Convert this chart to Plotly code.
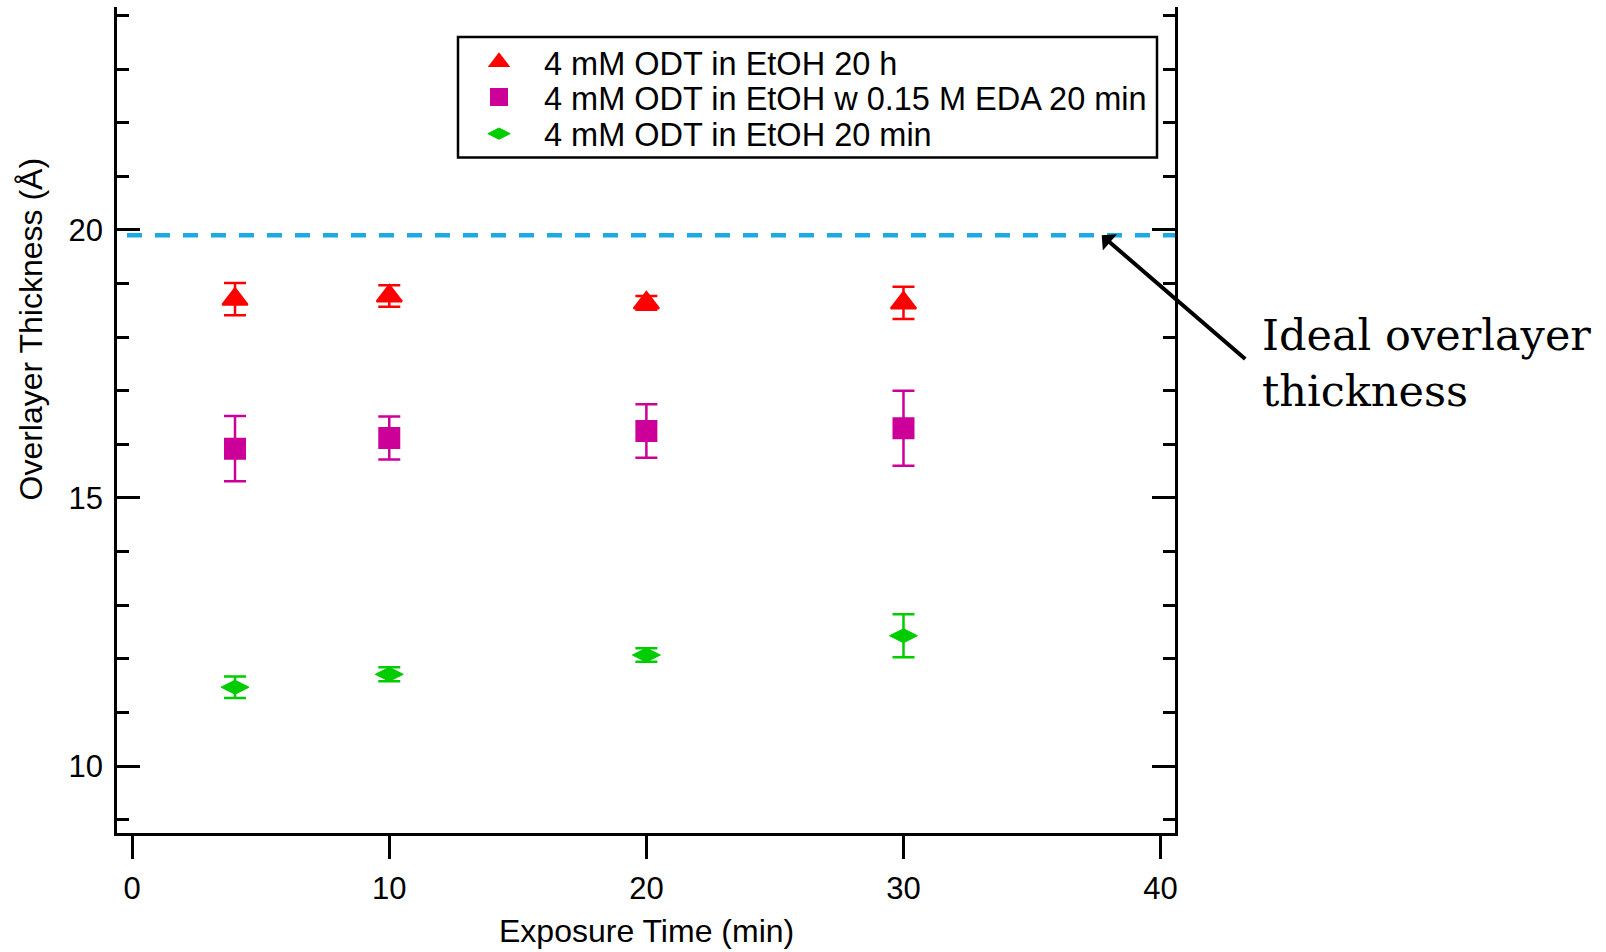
import plotly.graph_objects as go

# ---------------- data ----------------
time_min = [4, 10, 20, 30]

odt_20h = [18.71, 18.77, 18.64, 18.64]
odt_20h_err = [0.30, 0.20, 0.13, 0.30]

odt_eda_20min = [15.92, 16.12, 16.25, 16.30]
odt_eda_20min_err = [0.61, 0.40, 0.50, 0.70]

odt_20min = [11.47, 11.71, 12.07, 12.43]
odt_20min_err = [0.20, 0.13, 0.125, 0.40]

ideal_thickness = 19.9

series_names = [
    "4 mM ODT in EtOH 20 h",
    "4 mM ODT in EtOH w 0.15 M EDA 20 min",
    "4 mM ODT in EtOH 20 min",
]
x_title = "Exposure Time (min)"
y_title = "Overlayer Thickness (Å)"
note_text = "Ideal overlayer<br>thickness"

# ---------------- layout geometry ----------------
W, H = 1606, 952
L, R, T, B = 117, 431, 7, 119
PW, PH = W - L - R, H - T - B


def px2x(px):
    return (px - L) / PW


def py2y(py):
    return (H - B - py) / PH


FONT = "Liberation Sans, Arial, sans-serif"
SERIF = "DejaVu Serif, serif"
RED = "#FF0000"
MAGENTA = "#CC0099"
GREEN = "#00CC00"
BLUE = "#1DAAE2"

fig = go.Figure()

specs = [
    (odt_20h, odt_20h_err, RED, "triangle-up", 22, 2, "legend"),
    (odt_eda_20min, odt_eda_20min_err, MAGENTA, "square", 20, 2, "legend2"),
    (odt_20min, odt_20min_err, GREEN, "diamond-wide", 20, 1, "legend3"),
]
for (vals, errs, col, sym, size, lw, leg), name in zip(specs, series_names):
    fig.add_trace(go.Scatter(
        x=time_min, y=vals, mode="markers", name=name, legend=leg,
        marker=dict(symbol=sym, size=size, color=col, line=dict(width=lw, color=col)),
        error_y=dict(type="data", array=errs, visible=True, color=col, thickness=2.5, width=11),
    ))

legend_common = dict(
    font=dict(family=FONT, size=32.5, color="black"),
    bgcolor="rgba(0,0,0,0)", borderwidth=0, itemwidth=80,
    xanchor="left", yanchor="middle", x=px2x(454),
)

fig.update_layout(
    width=W, height=H,
    margin=dict(l=L, r=R, t=T, b=B, pad=0),
    paper_bgcolor="white", plot_bgcolor="white",
    font=dict(family=FONT, color="black"),
    legend=dict(**legend_common, y=py2y(62.3)),
    legend2=dict(**legend_common, y=py2y(97.3)),
    legend3=dict(**legend_common, y=py2y(134)),
    xaxis=dict(
        range=[-0.59, 40.56], dtick=10, tick0=0,
        showgrid=False, zeroline=False,
        showline=True, linecolor="black", linewidth=2.5, mirror=False,
        ticks="outside", ticklen=23, tickwidth=2.5, tickcolor="black",
        tickfont=dict(family=FONT, size=31, color="black"),
        ticklabelstandoff=3,
    ),
    yaxis=dict(
        range=[8.75, 24.16], dtick=5, tick0=0,
        showgrid=False, zeroline=False,
        showline=True, linecolor="black", linewidth=2.5, mirror="ticks",
        ticks="inside", ticklen=23, tickwidth=2.5, tickcolor="black",
        tickfont=dict(family=FONT, size=31, color="black"),
        ticklabelstandoff=5,
        minor=dict(dtick=1, ticks="inside", ticklen=12, tickwidth=2.5, tickcolor="black", showgrid=False),
    ),
    showlegend=True,
)

# legend frame
fig.add_shape(type="rect", xref="paper", yref="paper",
              x0=px2x(458), x1=px2x(1157), y0=py2y(157.5), y1=py2y(37),
              line=dict(color="black", width=2.5), fillcolor="rgba(0,0,0,0)", layer="above")

# ideal thickness dashed line
fig.add_shape(type="line", xref="paper", yref="y",
              x0=px2x(127), x1=1, y0=ideal_thickness, y1=ideal_thickness,
              line=dict(color=BLUE, width=4.5, dash="15px,13px"), layer="above")

# arrow
fig.add_annotation(x=37.71, y=ideal_thickness, xref="x", yref="y",
                   ax=145, ay=125, axref="pixel", ayref="pixel",
                   text="", showarrow=True, arrowhead=1, arrowsize=0.9,
                   arrowwidth=4, arrowcolor="black")

# note text
fig.add_annotation(x=px2x(1260), y=py2y(362.5), xref="paper", yref="paper",
                   xanchor="left", yanchor="middle", align="left",
                   text=note_text, showarrow=False,
                   font=dict(family=SERIF, size=43, color="black"))

# axis titles
fig.add_annotation(x=0.5, y=py2y(931), xref="paper", yref="paper",
                   xanchor="center", yanchor="middle", text=x_title, showarrow=False,
                   font=dict(family=FONT, size=32, color="black"))
fig.add_annotation(x=px2x(30), y=py2y(329.5), xref="paper", yref="paper",
                   xanchor="center", yanchor="middle", text=y_title, showarrow=False,
                   textangle=-90, font=dict(family=FONT, size=32, color="black"))

fig.write_html("out.html")
